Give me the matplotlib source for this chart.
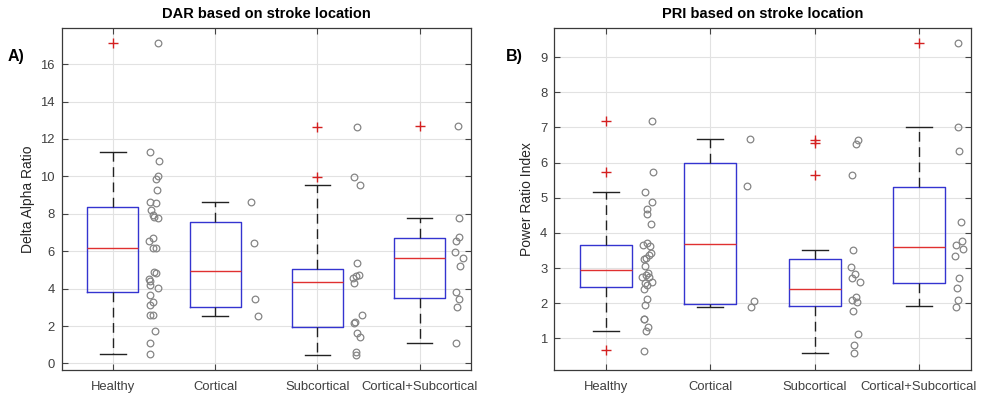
import matplotlib.pyplot as plt

plt.rcParams['font.family'] = ['Liberation Sans', 'DejaVu Sans']

groups = ["Healthy", "Cortical", "Subcortical", "Cortical+Subcortical"]

# Delta Alpha Ratio per group
dar_healthy = [17.11, 11.28, 10.82, 10.02, 9.86, 9.27, 8.63, 8.59, 8.20, 7.93,
               7.81, 7.75, 6.70, 6.54, 6.15, 6.15, 4.87, 4.85, 4.49, 4.40,
               4.19, 4.01, 3.64, 3.26, 3.10, 2.58, 2.57, 1.76, 1.07, 0.53]
dar_cortical = [8.61, 6.43, 3.42, 2.55]
dar_subcortical = [12.64, 9.98, 9.54, 5.37, 4.72, 4.67, 4.55, 4.28, 2.57, 2.24,
                   2.18, 1.64, 1.39, 0.62, 0.45]
dar_cortsub = [12.71, 7.79, 6.77, 6.56, 5.94, 5.65, 5.22, 3.83, 3.42, 3.03, 1.11]

# Power Ratio Index per group
pri_healthy = [7.19, 5.74, 5.15, 4.87, 4.69, 4.54, 4.26, 3.70, 3.65, 3.64,
               3.43, 3.36, 3.30, 3.25, 3.05, 2.85, 2.81, 2.74, 2.74, 2.59,
               2.58, 2.51, 2.40, 2.11, 1.95, 1.56, 1.54, 1.31, 1.20, 0.65]
pri_cortical = [6.68, 5.33, 2.05, 1.89]
pri_subcortical = [6.65, 6.52, 5.64, 3.50, 3.04, 2.84, 2.71, 2.61, 2.19, 2.10,
                   2.04, 1.77, 1.13, 0.82, 0.58]
pri_cortsub = [9.41, 7.00, 6.32, 4.30, 3.77, 3.67, 3.54, 3.34, 2.73, 2.43,
               2.08, 1.89]

# horizontal spread of the raw points beside each box
dar_healthy_jit = [0.44, 0.36, 0.45, 0.44, 0.42, 0.43, 0.36, 0.42, 0.37, 0.39,
                   0.40, 0.44, 0.39, 0.35, 0.39, 0.42, 0.40, 0.42, 0.35, 0.36,
                   0.36, 0.44, 0.36, 0.39, 0.36, 0.36, 0.39, 0.41, 0.36, 0.36]
dar_cortical_jit = [0.35, 0.38, 0.39, 0.42]
dar_subcortical_jit = [0.39, 0.36, 0.42, 0.39, 0.41, 0.38, 0.35, 0.36, 0.44, 0.37,
                       0.36, 0.39, 0.42, 0.38, 0.38]
dar_cortsub_jit = [0.38, 0.385, 0.385, 0.36, 0.35, 0.42, 0.40, 0.36, 0.385, 0.37, 0.36]

pri_healthy_jit = [0.44, 0.45, 0.37, 0.44, 0.39, 0.39, 0.43, 0.39, 0.35, 0.42,
                   0.43, 0.41, 0.38, 0.36, 0.37, 0.40, 0.38, 0.34, 0.41, 0.44,
                   0.37, 0.39, 0.36, 0.39, 0.37, 0.36, 0.36, 0.40, 0.38, 0.36]
pri_cortical_jit = [0.38, 0.35, 0.42, 0.39]
pri_subcortical_jit = [0.42, 0.40, 0.36, 0.37, 0.35, 0.39, 0.36, 0.44, 0.40, 0.36,
                       0.41, 0.37, 0.42, 0.38, 0.38]
pri_cortsub_jit = [0.38, 0.38, 0.39, 0.41, 0.42, 0.36, 0.43, 0.35, 0.39, 0.37,
                   0.38, 0.36]

# box statistics (q1, median, q3, whisker low, whisker high, outliers)
dar_q1 = [3.80, 2.99, 1.93, 3.51]
dar_med = [6.15, 4.94, 4.37, 5.65]
dar_q3 = [8.38, 7.54, 5.03, 6.70]
dar_wlo = [0.50, 2.55, 0.45, 1.11]
dar_whi = [11.28, 8.61, 9.55, 7.79]
dar_out = [[17.11], [], [12.64, 9.98], [12.71]]

pri_q1 = [2.47, 1.98, 1.91, 2.58]
pri_med = [2.95, 3.69, 2.41, 3.61]
pri_q3 = [3.66, 5.99, 3.26, 5.30]
pri_wlo = [1.22, 1.88, 0.58, 1.91]
pri_whi = [5.15, 6.68, 3.50, 7.00]
pri_out = [[7.19, 5.74, 0.66], [], [6.65, 6.56, 5.64], [9.41]]


def panel(ax, q1, med, q3, wlo, whi, out, points, jitter, title, ylabel, ylim, yticks):
    stats = []
    for i in range(4):
        stats.append(dict(q1=q1[i], med=med[i], q3=q3[i], whislo=wlo[i],
                          whishi=whi[i], fliers=out[i]))
    ax.bxp(stats, positions=[1, 2, 3, 4], widths=0.5, showfliers=True,
           boxprops=dict(color='#3434d0', linewidth=1.0),
           medianprops=dict(color='#e03030', linewidth=1.0),
           whiskerprops=dict(color='#222222', linewidth=1.0, linestyle=(0, (7, 4))),
           capprops=dict(color='#222222', linewidth=1.0),
           capwidths=0.25,
           flierprops=dict(marker='+', markeredgecolor='#d42020', markersize=7,
                           linestyle='none', markeredgewidth=1.0))
    for i in range(4):
        xs = [i + 1 + j for j in jitter[i]]
        ax.plot(xs, points[i], 'o', markersize=4.8, markerfacecolor='none',
                markeredgecolor='#858585', markeredgewidth=0.9, zorder=3)
    ax.set_xlim(0.5, 4.5)
    ax.set_ylim(*ylim)
    ax.set_yticks(yticks)
    ax.set_xticks([1, 2, 3, 4])
    ax.set_xticklabels(groups)
    ax.grid(True, color='#e2e2e2', linewidth=0.8)
    ax.set_axisbelow(True)
    ax.tick_params(direction='in', length=4, width=0.8, color='#444444',
                   labelcolor='#404040', labelsize=9.4, top=True, right=True)
    ax.tick_params(axis='x', pad=8)
    ax.tick_params(axis='y', pad=5)
    for s in ax.spines.values():
        s.set_color('#3a3a3a')
        s.set_linewidth(0.9)
    ax.set_title(title, fontsize=10.5, fontweight='bold', pad=7)
    ax.set_ylabel(ylabel, fontsize=10, color='#262626', labelpad=4)


fig = plt.figure(figsize=(9.81, 3.96), dpi=100)
ax1 = fig.add_axes([0.0629, 0.0657, 0.4169, 0.8636])
ax2 = fig.add_axes([0.565, 0.0657, 0.4245, 0.8636])

panel(ax1, dar_q1, dar_med, dar_q3, dar_wlo, dar_whi, dar_out,
      [dar_healthy, dar_cortical, dar_subcortical, dar_cortsub],
      [dar_healthy_jit, dar_cortical_jit, dar_subcortical_jit, dar_cortsub_jit],
      "DAR based on stroke location", "Delta Alpha Ratio", (-0.35, 17.93),
      range(0, 17, 2))
panel(ax2, pri_q1, pri_med, pri_q3, pri_wlo, pri_whi, pri_out,
      [pri_healthy, pri_cortical, pri_subcortical, pri_cortsub],
      [pri_healthy_jit, pri_cortical_jit, pri_subcortical_jit, pri_cortsub_jit],
      "PRI based on stroke location", "Power Ratio Index", (0.1, 9.83),
      range(1, 10))

fig.text(0.008, 0.845, "A)", fontsize=11.5, fontweight='bold')
fig.text(0.516, 0.845, "B)", fontsize=11.5, fontweight='bold')

fig.savefig("out.png", dpi=100)
